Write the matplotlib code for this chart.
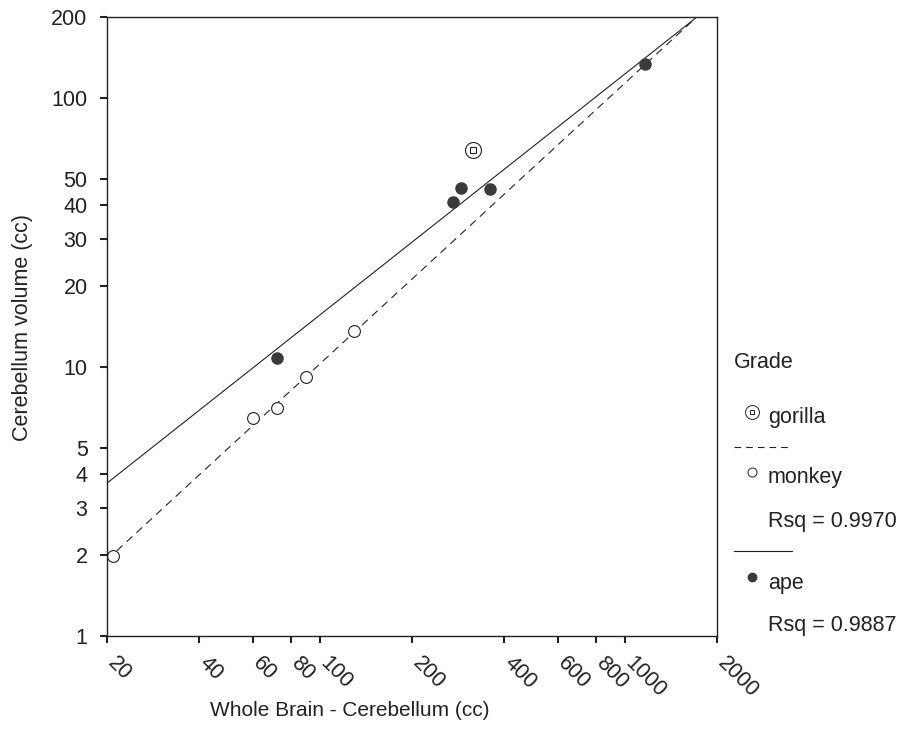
import matplotlib.pyplot as plt
import matplotlib.transforms as mtransforms
from matplotlib.lines import Line2D
from matplotlib.ticker import FixedLocator, NullLocator, FixedFormatter

plt.rcParams['font.family'] = ['Liberation Sans', 'DejaVu Sans']

# data
monkey_x = [21, 60, 72, 90, 129]
monkey_y = [1.98, 6.46, 7.04, 9.18, 13.6]
ape_x = [72, 272, 290, 360, 1162]
ape_y = [10.8, 41, 46.3, 45.9, 134]
gorilla_x = [317]
gorilla_y = [64]

# fitted lines (end points)
monkey_fit_x = [20, 1700]
monkey_fit_y = [1.92, 198]
ape_fit_x = [20, 1700]
ape_fit_y = [3.70, 198]

x_ticks = [20, 40, 60, 80, 100, 200, 400, 600, 800, 1000, 2000]
y_ticks = [1, 2, 3, 4, 5, 10, 20, 30, 40, 50, 100, 200]
rsq_monkey = "Rsq = 0.9970"
rsq_ape = "Rsq = 0.9887"

W, H = 901, 749
fs = 15.5
fig = plt.figure(figsize=(W / 100, H / 100), dpi=100)
ax = fig.add_axes([107 / W, (H - 636) / H, 610 / W, 619 / H])

ink = "#222222"
ax.plot(monkey_fit_x, monkey_fit_y, color=ink, lw=0.8, dashes=(7, 5))
ax.plot(ape_fit_x, ape_fit_y, color=ink, lw=0.8)

ax.plot(monkey_x, monkey_y, "o", ms=8.5, mfc="white", mec=ink, mew=0.8, ls="none")
ax.plot(ape_x, ape_y, "o", ms=8, mfc="#3a3a3a", mec="#3a3a3a", ls="none")
ax.plot(gorilla_x, gorilla_y, "o", ms=11.5, mfc="white", mec=ink, mew=0.8, ls="none")
ax.plot(gorilla_x, gorilla_y, "s", ms=4.5, mfc="white", mec=ink, mew=0.8, ls="none")

ax.set_xscale("log")
ax.set_yscale("log")
ax.set_xlim(20, 2000)
ax.set_ylim(1, 200)

ax.xaxis.set_major_locator(FixedLocator(x_ticks))
ax.xaxis.set_major_formatter(FixedFormatter([str(v) for v in x_ticks]))
ax.xaxis.set_minor_locator(NullLocator())
ax.yaxis.set_major_locator(FixedLocator(y_ticks))
ax.yaxis.set_major_formatter(FixedFormatter([str(v) for v in y_ticks]))
ax.yaxis.set_minor_locator(NullLocator())

ax.tick_params(axis="y", direction="out", length=5, width=1.5, colors=ink,
               labelsize=fs, pad=9)
ax.tick_params(axis="x", direction="out", length=5, width=1.5, colors=ink,
               labelsize=fs, pad=7)
shift = mtransforms.ScaledTranslation(0.11, 0, fig.dpi_scale_trans)
for lab in ax.get_xticklabels():
    lab.set_rotation(-45)
    lab.set_ha("left")
    lab.set_va("top")
    lab.set_rotation_mode("anchor")
    lab.set_transform(lab.get_transform() + shift)
for s in ax.spines.values():
    s.set_color(ink)
    s.set_linewidth(1.0)

fig.text(350 / W, 1 - 710 / H, "Whole Brain - Cerebellum (cc)", ha="center",
         va="center", fontsize=15, color=ink)
fig.text(23 / W, 1 - 328 / H, "Cerebellum volume (cc)", ha="center",
         va="center", rotation=90, fontsize=15.5, color=ink)

# legend drawn by hand (SPSS style)
def fx(px):
    return px / W

def fy(py):
    return 1 - py / H

fig.text(fx(734), fy(362), "Grade", ha="left", va="center", fontsize=fs, color=ink)
fig.add_artist(Line2D([fx(752)], [fy(412)], marker="o", ms=10, mfc="white",
                      mec=ink, mew=0.7, ls="none"))
fig.add_artist(Line2D([fx(752)], [fy(412)], marker="s", ms=3.5, mfc="white",
                      mec=ink, mew=0.7, ls="none"))
fig.text(fx(768), fy(418), "gorilla", ha="left", va="center", fontsize=fs, color=ink)
fig.add_artist(Line2D([fx(734), fx(791)], [fy(447), fy(447)], color=ink, lw=0.8,
                      dashes=(6, 4.5)))
fig.add_artist(Line2D([fx(752)], [fy(472)], marker="o", ms=6.5, mfc="white",
                      mec=ink, mew=0.7, ls="none"))
fig.text(fx(768), fy(478), "monkey", ha="left", va="center", fontsize=fs, color=ink)
fig.text(fx(768), fy(522), rsq_monkey, ha="left", va="center", fontsize=fs, color=ink)
fig.add_artist(Line2D([fx(734), fx(792)], [fy(551), fy(551)], color=ink, lw=0.8))
fig.add_artist(Line2D([fx(752)], [fy(577)], marker="o", ms=6, mfc="#3a3a3a",
                      mec="#3a3a3a", ls="none"))
fig.text(fx(768), fy(584), "ape", ha="left", va="center", fontsize=fs, color=ink)
fig.text(fx(768), fy(625), rsq_ape, ha="left", va="center", fontsize=fs, color=ink)

fig.savefig("out.png", dpi=100)
